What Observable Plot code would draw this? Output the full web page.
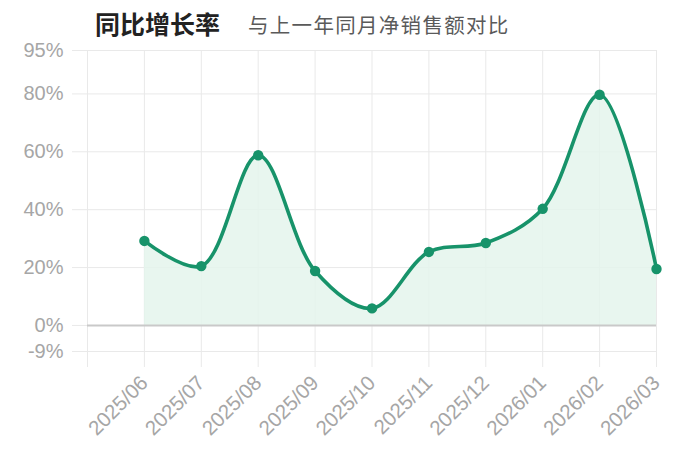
<!DOCTYPE html>
<html>
<head>
<meta charset="utf-8">
<script src="https://cdn.jsdelivr.net/npm/d3@7"></script>
<script src="https://cdn.jsdelivr.net/npm/@observablehq/plot@0.6"></script>
<style>
  html, body { margin: 0; padding: 0; background: #fff; }
  #wrap { width: 680px; height: 452px; overflow: hidden; }
  #title { height: 40px; position: relative; font-family: "Noto Sans CJK SC", sans-serif; }
  #title .t { position: absolute; left: 95px; top: 5px; font-size: 25px; font-weight: bold; color: #222; }
  #title .s { position: absolute; left: 248px; top: 9px; font-size: 20.5px; color: #5a5a5a; letter-spacing: 1.3px; }
  svg { display: block; }
</style>
</head>
<body>
<div id="wrap">
  <div id="title"><span class="t">同比增长率</span><span class="s">与上一年同月净销售额对比</span></div>
  <div id="chart"></div>
</div>
<script>
const months = ["2025/06","2025/07","2025/08","2025/09","2025/10","2025/11","2025/12","2026/01","2026/02","2026/03"];
const growth = [29.2, 20.5, 58.8, 18.8, 5.9, 25.4, 28.5, 40.3, 79.7, 19.5];
const yTicks = [-9, 0, 20, 40, 60, 80, 95];
const xTicks = [-1, 0, 1, 2, 3, 4, 5, 6, 7, 8, 9];

const data = months.map((m, i) => ({i, month: m, v: growth[i]}));
const green = "#17936a";
const gridColor = "#e9e9e9";
const labelColor = "#a6a6a6";

const chart = Plot.plot({
  width: 680,
  height: 412,
  marginTop: 10,
  marginBottom: 101,
  marginLeft: 87,
  marginRight: 24,
  style: {fontFamily: "'Liberation Sans', Arial, sans-serif", background: "#fff"},
  x: {domain: [-1, 9], label: null},
  y: {domain: [-9, 95], label: null},
  marks: [
    Plot.gridY(yTicks, {stroke: gridColor, strokeOpacity: 1, strokeWidth: 1}),
    Plot.gridX(xTicks, {stroke: gridColor, strokeOpacity: 1, strokeWidth: 1}),
    Plot.axisY(yTicks, {tickSize: 15, tickPadding: 9, stroke: gridColor, fill: labelColor, fontSize: 20, label: null, tickFormat: d => d + "%"}),
    Plot.axisX(xTicks, {tickSize: 16, tickPadding: 12, tickRotate: -45, stroke: gridColor, fill: labelColor, fontSize: 20.5, label: null, tickFormat: d => months[d] ?? ""}),
    Plot.areaY(data, {x: "i", y: "v", curve: "catmull-rom", fill: "#e4f4ec", fillOpacity: 0.85}),
    Plot.ruleY([0], {stroke: "#c9c9c9", strokeWidth: 2}),
    Plot.line(data, {x: "i", y: "v", curve: "catmull-rom", stroke: green, strokeWidth: 3.6}),
    Plot.dot(data, {x: "i", y: "v", r: 5.2, fill: green})
  ]
});
document.getElementById("chart").appendChild(chart);
</script>
</body>
</html>
